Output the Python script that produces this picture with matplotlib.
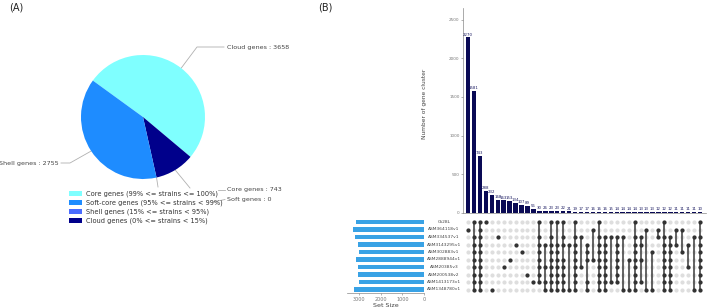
import numpy as np
import matplotlib
matplotlib.use('Agg')
import matplotlib.pyplot as plt

plt.rcParams['font.family'] = ['DejaVu Sans']

# ---- panel A data ----
pie_labels = ['Cloud genes', 'Core genes', 'Soft genes', 'Shell genes']
pie_values = [3658, 743, 0, 2755]
pie_colors = ['#7fffff', '#00008b', '#4a6cff', '#1e8cff']

legend_labels = ['Core genes (99% <= strains <= 100%)',
                 'Soft-core genes (95% <= strains < 99%)',
                 'Shell genes (15% <= strains < 95%)',
                 'Cloud genes (0% <= strains < 15%)']
legend_colors = ['#7fffff', '#1e8cff', '#4a6cff', '#00008b']

# ---- panel B data ----
strains = ['Gt28L', 'ASM364118v1', 'ASM334537v1', 'ASM3143295v1', 'ASM302883v1',
           'ASM2888944v1', 'ASM20385v3', 'ASM200538v2', 'ASM1413173v1', 'ASM1348780v1']
set_sizes = [3130, 3290, 3170, 3060, 2990, 3150, 3060, 3030, 2990, 3220]

inter_sizes = [2270, 1581, 743, 288, 232, 168, 163, 153, 134, 107, 89, 56,
               30, 26, 23, 23, 22, 21, 19, 17, 17, 16, 16, 16, 15, 14, 14, 14,
               14, 13, 13, 13, 12, 12, 12, 11, 11, 11, 11, 10]
ALL = list(range(10))
inter_members = [
    [1], [0, 2, 3, 4, 5, 6, 7, 8, 9], ALL, [0], [9], [2], [6], [5], [3], [4], [7], [8],
    [0, 2, 3, 4, 5, 6, 7, 8], [3, 6, 8, 9], [0, 2, 3, 4, 5, 6, 7, 8, 9],
    [0, 3, 4, 5, 6, 7, 8, 9], [0, 2, 3, 5, 6, 7, 8, 9], [3, 9],
    [0, 2, 3, 4, 5, 6, 7, 8, 9], [2, 6], [3, 4, 5, 8, 9], [1, 5],
    [0, 2, 3, 4, 5, 6, 7, 8, 9], [2, 3, 4, 5, 6, 7, 8, 9], [2, 8],
    [2, 3, 4, 5, 6, 7, 8], [2, 9], [5, 9], [0, 2, 3, 4, 5, 6, 7, 8, 9],
    [2, 3, 5, 8], [1, 9], [4, 9], [1, 2], [0, 2, 3, 4, 5, 6, 7, 8, 9],
    [2, 3, 4, 5, 6, 7, 8, 9], [1, 3], [1, 4], [3, 6], [2, 9],
    [0, 2, 3, 4, 5, 6, 7, 8, 9],
]

W, H = 708, 307
fig = plt.figure(figsize=(W / 100, H / 100), dpi=100)


def px_box(x0, y0, x1, y1):
    # pixel box (top-left origin) -> figure fraction rect
    return [x0 / W, (H - y1) / H, (x1 - x0) / W, (y1 - y0) / H]


# overlay for free text and leader lines, in pixel units
ov = fig.add_axes([0, 0, 1, 1])
ov.set_xlim(0, W)
ov.set_ylim(H, 0)
ov.axis('off')

ov.text(9, 8, '(A)', fontsize=7, va='center', color='#222222')
ov.text(318, 8, '(B)', fontsize=7, va='center', color='#222222')

# ---- pie ----
cx, cy, r = 143, 117, 62
ax_pie = fig.add_axes(px_box(cx - r, cy - r, cx + r, cy + r))
start = 144
ax_pie.pie(pie_values, colors=pie_colors, startangle=start, counterclock=False,
           wedgeprops=dict(linewidth=0))
ax_pie.set_xlim(-1, 1)
ax_pie.set_ylim(-1, 1)
ax_pie.axis('off')

# anchor points on the rim at wedge mid-angles
tot = float(sum(pie_values))
acc = 0.0
anchors = {}
for lab, v in zip(pie_labels, pie_values):
    mid = start - (acc + v / 2) / tot * 360
    acc += v
    a = np.radians(mid)
    anchors[lab] = (cx + r * np.cos(a), cy - r * np.sin(a))

lc = '#b0b0b0'
tc = '#444444'
fs_lab = 4.6
ax0, ay0 = anchors['Cloud genes']
ov.plot([ax0, 197, 224], [ay0, 47, 47], color=lc, lw=0.6)
ov.text(227, 47, f'Cloud genes : {pie_values[0]}', fontsize=fs_lab, va='center', color=tc)

ax0, ay0 = anchors['Shell genes']
ov.plot([ax0, 70, 61], [ay0, 163, 163], color=lc, lw=0.6)
ov.text(59, 163, f'Shell genes : {pie_values[3]}', fontsize=fs_lab, va='center',
        ha='right', color=tc)

ax0, ay0 = anchors['Core genes']
ov.plot([ax0, 190], [ay0, 188], color=lc, lw=0.6)
ov.plot([218, 225], [190, 190], color=lc, lw=0.6)
ov.text(227, 190, f'Core genes : {pie_values[1]}', fontsize=fs_lab, va='center', color=tc)

ax0, ay0 = anchors['Soft genes']
ov.plot([ax0, 158], [ay0, 187], color=lc, lw=0.6)
ov.plot([213, 225], [202, 199.5], color=lc, lw=0.6)
ov.text(227, 200, f'Soft genes : {pie_values[2]}', fontsize=fs_lab, va='center', color=tc)

# legend
for i, (lab, col) in enumerate(zip(legend_labels, legend_colors)):
    y = 193.5 + 9.1 * i
    ov.add_patch(plt.Rectangle((69, y - 2.4), 13, 4.8, color=col, lw=0))
    ov.text(86, y, lab, fontsize=4.8, va='center', color='#333333')

# ---- upset: intersection bars ----
n = len(inter_sizes)
xl = (-0.84, 40.0)
bar_c = '#0a0a55'
ax_bar = fig.add_axes(px_box(463, 8, 706, 213))
xs = np.arange(n)
ax_bar.bar(xs, inter_sizes, width=0.75, color=bar_c)
for x, v in zip(xs, inter_sizes):
    ax_bar.annotate(str(v), (x, v), xytext=(0, 0.6), textcoords='offset points',
                    ha='center', va='bottom', fontsize=2.8, color='#1a1a60')
ax_bar.set_xlim(*xl)
ax_bar.set_ylim(0, 2650)
ax_bar.set_yticks(np.arange(0, 2501, 500))
ax_bar.set_xticks([])
ax_bar.tick_params(axis='y', labelsize=3, colors='#777777', length=1.5, width=0.4, pad=1)
for s in ['top', 'right']:
    ax_bar.spines[s].set_visible(False)
for s in ['left', 'bottom']:
    ax_bar.spines[s].set_color('#888888')
    ax_bar.spines[s].set_linewidth(0.5)
ax_bar.set_ylabel('Number of gene cluster', fontsize=4.2, color='#444444')
ax_bar.yaxis.set_label_coords(-0.148, 0.53)

# ---- upset: matrix ----
ax_mat = fig.add_axes(px_box(463, 218.25, 706, 293.25))
ax_mat.set_xlim(*xl)
ax_mat.set_ylim(9.5, -0.5)
ax_mat.axis('off')
gx, gy = np.meshgrid(xs, np.arange(10))
ax_mat.scatter(gx.ravel(), gy.ravel(), s=9, color='#dedede', lw=0, zorder=1)
for x, mem in zip(xs, inter_members):
    if len(mem) > 1:
        ax_mat.plot([x, x], [min(mem), max(mem)], color='#3a3a3a', lw=1.1, zorder=2)
    ax_mat.scatter([x] * len(mem), mem, s=9, color='#333333', lw=0, zorder=3)

# ---- upset: set sizes ----
ax_set = fig.add_axes(px_box(347, 218.25, 424, 293.25))
ax_set.barh(np.arange(10), set_sizes, height=0.55, color='#39a2e5')
ax_set.set_ylim(9.5, -0.5)
ax_set.set_xlim(3550, 0)
ax_set.set_xticks([3000, 2000, 1000, 0])
ax_set.set_yticks([])
ax_set.tick_params(axis='x', labelsize=3.5, colors='#777777', length=1.5, width=0.4, pad=1)
for s in ['top', 'right', 'left']:
    ax_set.spines[s].set_visible(False)
ax_set.spines['bottom'].set_color('#888888')
ax_set.spines['bottom'].set_linewidth(0.5)
ax_set.set_xlabel('Set Size', fontsize=4.6, color='#444444', labelpad=1)

for i, name in enumerate(strains):
    ov.text(444, 222 + 7.5 * i, name, fontsize=3.2, ha='center', va='center', color='#444444')

fig.savefig('out.png', dpi=100)
